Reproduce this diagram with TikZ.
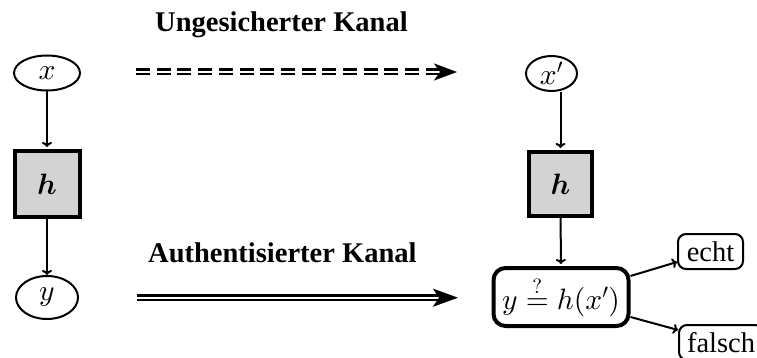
\RequirePackage{fix-cm}
\documentclass[tikz,border=0pt]{standalone}
\usepackage{amsmath,bm}
\usepackage[no-math]{fontspec}
\setmainfont{Liberation Serif}
\DeclareFontShape{OML}{cmm}{m}{it}{<->cmmi10}{}
\DeclareFontShape{OML}{cmm}{b}{it}{<->cmmib10}{}
\DeclareFontShape{OT1}{cmr}{m}{n}{<->cmr10}{}
\DeclareFontShape{OMS}{cmsy}{m}{n}{<->cmsy10}{}
\usetikzlibrary{arrows.meta,shapes.geometric,calc}
\newcommand{\fsz}{\fontsize{28.5}{34}\selectfont}
\newcommand{\msz}{\fontsize{29.5}{35}\selectfont}
\definecolor{boxgray}{RGB}{211,211,211}
\begin{document}
\begin{tikzpicture}[x=1pt,y=-1pt,
  ell/.style={ellipse,draw,line width=2pt,inner sep=0pt,font=\msz},
  hbox/.style={draw,fill=boxgray,line width=4pt,inner sep=0pt,font=\msz},
  cmp/.style={draw,rounded corners=12pt,line width=4pt,inner sep=0pt,minimum width=135pt,minimum height=58pt,font=\msz},
  res/.style={draw,rounded corners=8pt,line width=2pt,inner sep=0pt,inner xsep=8pt,minimum width=65pt,minimum height=35pt,font=\fsz},
  arr/.style={line width=2pt,-{To[length=5pt,width=10pt]}},
  title/.style={font=\fsz\bfseries,inner sep=0pt,anchor=base west},
  dashdbl/.style={double,double distance=2pt,line width=2.5pt,dash pattern=on 14pt off 6.7pt,-{Stealth[length=23pt,width=17pt,inset=6pt]}},
  soliddbl/.style={double,double distance=2pt,line width=2.5pt,-{Stealth[length=25pt,width=18pt,inset=6pt]}}]
\useasboundingbox (0,0) rectangle (757,358);
% left column
\node[ell,minimum width=66pt,minimum height=35pt] (x) at (47,73) {$x$};
\node[hbox,minimum width=65pt,minimum height=66pt] (hl) at (47,184) {$\bm{h}$};
\node[ell,minimum width=62pt,minimum height=43pt] (y) at (47,297.5) {$y$};
% right column
\node[ell,minimum width=51pt,minimum height=35pt] (xp) at (551.5,73.5) {$x'$};
\node[hbox,minimum width=63pt,minimum height=64pt] (hr) at (560.5,184) {$\bm{h}$};
\node[cmp] (cmp) at (561,297) {$y\stackrel{?}{=}h(x')$};
\node[res] (echt) at (710.5,251.5) {echt};
\node[res,anchor=north west] (falsch) at (678,324) {falsch};
% titles
\node[title] (t1) at (155,32) {Ungesicherter Kanal};
\node[title] (t2) at (148,262) {Authentisierter Kanal};
% channels
\coordinate (u1) at (136,72);
\coordinate (u2) at (457,72);
\coordinate (a1) at (137,297.7);
\coordinate (a2) at (458,297.7);
\draw[dashdbl] (u1) -- (u2);
\draw[soliddbl] (a1) -- (a2);
% arrows
\draw[arr,shorten >=2pt] (x) -- (hl);
\draw[arr] (hl) -- (y);
\draw[arr,shorten >=2pt] (xp.south -| hr.north) -- (hr.north);
\draw[arr,shorten >=2pt] (hr) -- (cmp);
\draw[arr] ($(cmp.east)+(0,-21)$) -- ($(echt.west)+(0,10.5)$);
\draw[arr] ($(cmp.east)+(0,20)$) -- ($(falsch.west)+(0,-12.5)$);
\end{tikzpicture}
\end{document}
